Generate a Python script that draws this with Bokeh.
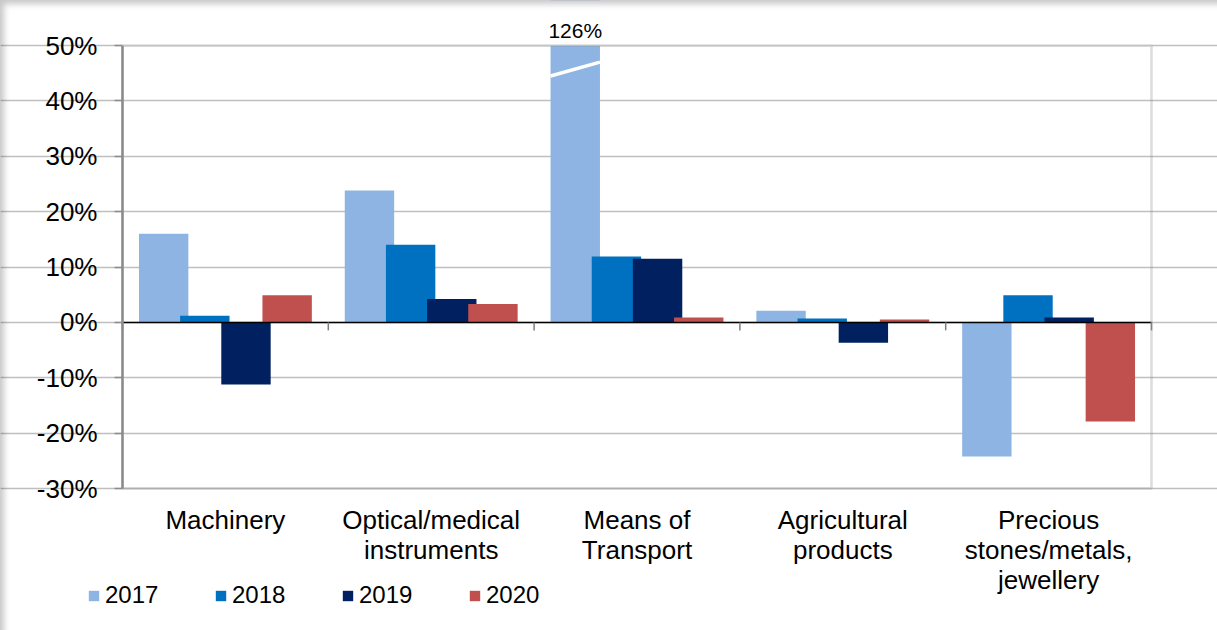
from bokeh.plotting import figure
from bokeh.models import (Range1d, LinearAxis, FixedTicker, PrintfTickFormatter, Grid,
                          Legend, LegendItem, Label, BoxAnnotation, InlineStyleSheet)
from bokeh.embed import file_html
from bokeh.resources import INLINE

# Year-on-year export growth by product group (%)
categories = ["Machinery", "Optical/medical\ninstruments", "Means of\nTransport",
              "Agricultural\nproducts", "Precious\nstones/metals,\njewellery"]
years = ["2017", "2018", "2019", "2020"]
v2017 = [16.0, 23.8, 126.0, 2.1, -24.2]
v2018 = [1.2, 14.0, 11.9, 0.7, 4.9]
v2019 = [-11.2, 4.2, 11.5, -3.7, 0.9]
v2020 = [4.9, 3.3, 0.9, 0.5, -17.9]
y_ticks = [-30, -20, -10, 0, 10, 20, 30, 40, 50]
colors = ["#8EB4E3", "#0070C0", "#002060", "#C0504D"]

FONT = "Liberation Sans"
W, H = 1217, 630
# plot-area box inside the canvas (pixels)
BOX_L, BOX_R, BOX_T, BOX_B = 122, 1151, 45, 488
TICK = 8  # length of outward tick marks, pixels

n = len(categories)
offsets = [-0.3, -0.1, 0.1, 0.3]
bar_w = 0.24
y_min, y_max = y_ticks[0], y_ticks[-1]

# the drawing frame spans the whole canvas, so axes, labels and legend all
# live inside it; the ranges put the data box at BOX_*
sx = (BOX_R - BOX_L) / n
sy = (BOX_B - BOX_T) / (y_max - y_min)
x_start, x_end = -BOX_L / sx, n + (W - BOX_R) / sx
y_start, y_end = y_min - (H - BOX_B) / sy, y_max + BOX_T / sy

p = figure(width=W, height=H, x_range=Range1d(x_start, x_end), y_range=Range1d(y_start, y_end),
           output_backend="svg", toolbar_location=None, title=None,
           x_axis_location=None, y_axis_location=None,
           min_border_left=0, min_border_right=0, min_border_top=0, min_border_bottom=0,
           background_fill_alpha=0, border_fill_alpha=0, outline_line_color=None)
p.xgrid.visible = False
p.ygrid.visible = False
# white card with a soft shadow on its top and left edges, laid over the canvas
p.styles = {"background-color": "white"}
p.stylesheets = [InlineStyleSheet(css="""
:host { position: relative; }
:host::after {
  content: ""; position: absolute; left: 0; top: 0; right: 0; bottom: 0;
  box-shadow: inset 7px 7px 6px -3px rgba(0, 0, 0, 0.22);
  pointer-events: none;
}
""")]

# horizontal gridlines across the data box only
yticker = FixedTicker(ticks=y_ticks)
p.add_layout(Grid(dimension=1, ticker=yticker, bounds=(0, n),
                  grid_line_color="#bfbfbf", grid_line_width=1.5))

# bars, one series per year
series = [v2017, v2018, v2019, v2020]
renderers = []
for k, vals in enumerate(series):
    xs = [i + 0.5 + offsets[k] for i in range(n)]
    r = p.vbar(x=xs, top=vals, bottom=0, width=bar_w, fill_color=colors[k], line_color=None)
    renderers.append(r)

# zero line with category separators
bounds = list(range(n + 1))
p.segment(x0=[0], y0=[0], x1=[n], y1=[0], line_color="black", line_width=1.5)
p.segment(x0=bounds, y0=[0] * len(bounds), x1=bounds, y1=[-TICK / sy] * len(bounds),
          line_color="#7f7f7f", line_width=1.5)

# anything above the top of the scale is cut off
p.add_layout(BoxAnnotation(left=0, right=n, bottom=y_max, top=None, fill_color="white",
                           fill_alpha=1, line_color=None, level="annotation"))

# plot-area border
p.add_layout(BoxAnnotation(left=0, right=n, bottom=y_min, top=y_max, fill_alpha=0,
                           line_color="#8c8c8c", line_width=2.5, level="annotation"))

# break mark and value note on the bar that runs off the scale
for i, v in enumerate(v2017):
    if v > y_max:
        xc = i + 0.5 + offsets[0]
        p.segment(x0=[xc - bar_w / 2], y0=[y_max - 5.5], x1=[xc + bar_w / 2], y1=[y_max - 3.0],
                  line_color="white", line_width=3.5)
        p.add_layout(Label(x=xc, y=y_max, text=f"{v:.0f}%", text_align="center",
                           text_baseline="bottom", y_offset=4, text_font=FONT,
                           text_font_size="21px", text_color="black", level="annotation"))

# y axis
yaxis = LinearAxis(fixed_location=0, bounds=(y_min, y_max), ticker=yticker,
                   formatter=PrintfTickFormatter(format="%d%%"),
                   axis_line_color="#8c8c8c", axis_line_width=2.5,
                   major_tick_out=TICK, major_tick_in=0, major_tick_line_color="#8c8c8c",
                   major_tick_line_width=1.5, minor_tick_line_color=None,
                   major_label_text_font=FONT, major_label_text_font_size="26px",
                   major_label_text_color="black", major_label_standoff=17)
p.add_layout(yaxis, "left")

# category labels under the data box
xaxis = LinearAxis(fixed_location=y_min, ticker=FixedTicker(ticks=[i + 0.5 for i in range(n)]),
                   major_label_overrides={i + 0.5: c for i, c in enumerate(categories)},
                   axis_line_color=None, major_tick_line_color=None, minor_tick_line_color=None,
                   major_tick_in=0, major_tick_out=0,
                   major_label_text_font=FONT, major_label_text_font_size="26px",
                   major_label_text_color="black", major_label_text_line_height=1.0,
                   major_label_standoff=16)
p.add_layout(xaxis, "below")

legend = Legend(items=[LegendItem(label=y, renderers=[r]) for y, r in zip(years, renderers)],
                orientation="horizontal", location=(87, 21),
                glyph_width=13, glyph_height=13, label_standoff=5, label_width=109, spacing=0,
                padding=0, margin=0, border_line_color=None, background_fill_alpha=0,
                label_text_font=FONT, label_text_font_size="24px", label_text_color="black")
p.add_layout(legend, "center")

open("out.html", "w").write(file_html(p, INLINE))
